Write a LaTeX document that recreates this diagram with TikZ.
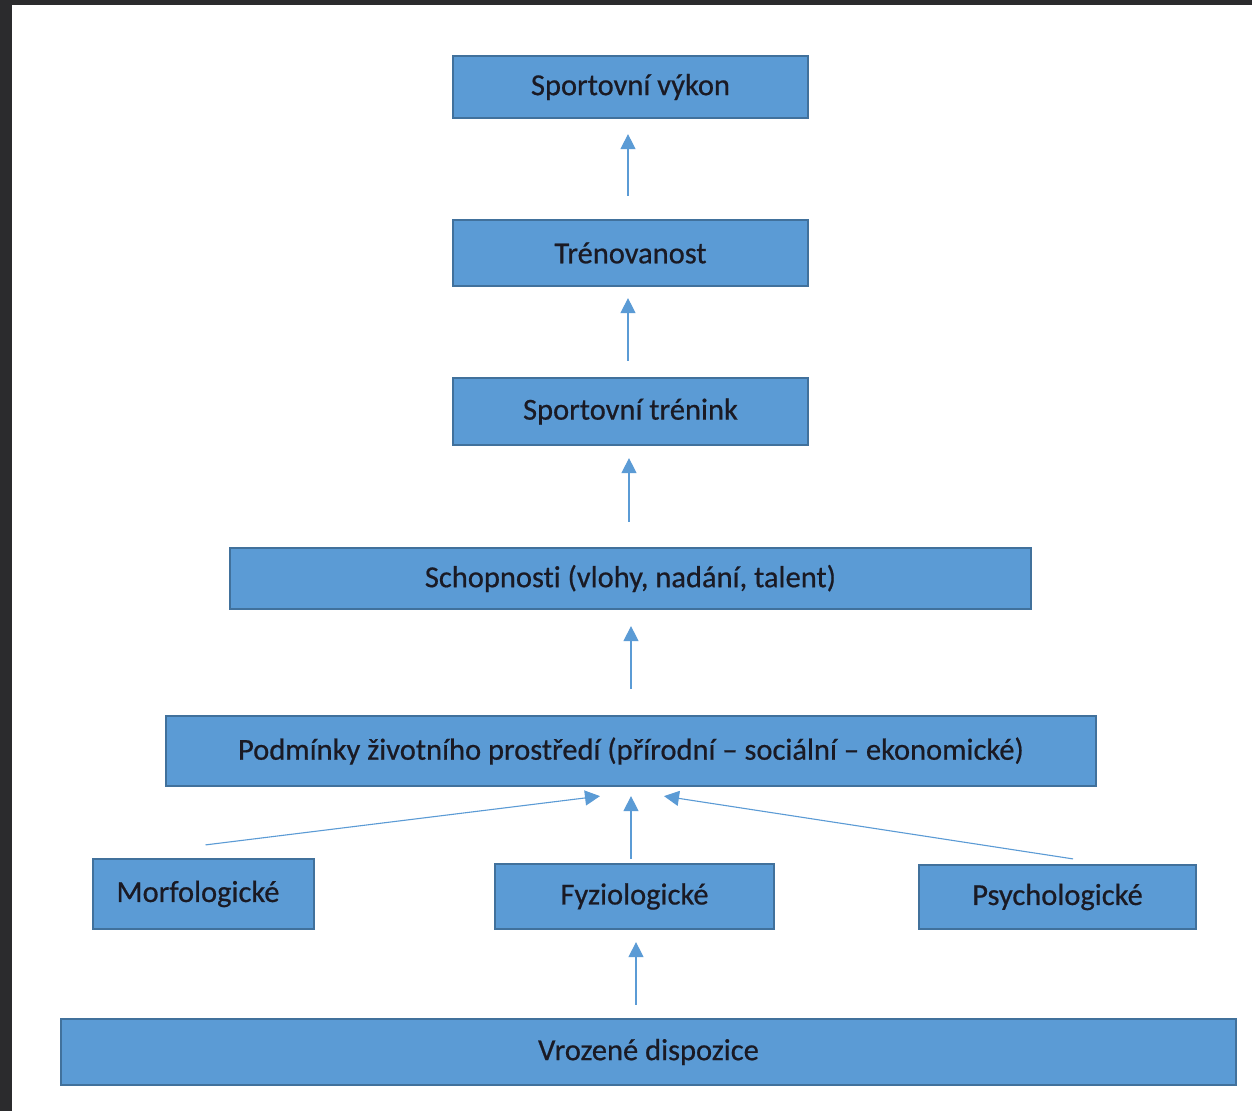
\documentclass[tikz,border=0pt]{standalone}
\usepackage{fontspec}
\setmainfont{Carlito}[Ligatures=NoCommon]
\newfontfamily\boxfont{Carlito}[Ligatures=NoCommon,FakeBold=0.6]
\usetikzlibrary{arrows.meta,calc}
\definecolor{boxfill}{HTML}{5B9BD5}
\definecolor{boxline}{HTML}{41719C}
\definecolor{txt}{HTML}{1A1A24}
\definecolor{frame}{HTML}{2B2B2D}
\tikzset{
  box/.style={draw=boxline, line width=2.2pt, fill=boxfill, text=txt, inner sep=0pt,
    font=\boxfont\fontsize{30.5}{36}\selectfont},
  arr/.style={draw=boxfill, line width=1.1pt, -{Triangle[width=15pt,length=15pt]}}
}
\begin{document}
\begin{tikzpicture}[x=1pt,y=-1pt]
\useasboundingbox (0,0) rectangle (1252,1111);
\fill[white] (0,0) rectangle (1252,1111);
\fill[frame] (0,0) rectangle (1252,5);
\fill[frame] (0,0) rectangle (12,1111);

\node[box, minimum width=355pt, minimum height=62pt] (vykon) at (630.5,87) {Sportovní výkon};
\node[box, minimum width=355pt, minimum height=66pt] (tren) at (630.5,253) {Trénovanost};
\node[box, minimum width=355pt, minimum height=67pt] (trenink) at (630.5,411.5) {Sportovní trénink};
\node[box, minimum width=801pt, minimum height=61pt] (schop) at (630.5,578.5) {Schopnosti (vlohy, nadání, talent)};
\node[box, minimum width=930pt, minimum height=70pt] (pod) at (631,751) {Podmínky životního prostředí (přírodní – sociální – ekonomické)};
\node[box, minimum width=221pt, minimum height=70pt] (morf) at (203.5,894) {Morfologické\kern11pt};
\node[box, minimum width=279pt, minimum height=65pt] (fyz) at (634.5,896.5) {Fyziologické};
\node[box, minimum width=277pt, minimum height=64pt] (psych) at (1057.5,897) {Psychologické};
\node[box, minimum width=1175pt, minimum height=66pt] (vroz) at (648.5,1052) {Vrozené dispozice};

\draw[arr] ($(tren.north)+(-2.5,-23)$) -- ($(vykon.south)+(-2.5,15)$);
\draw[arr] ($(trenink.north)+(-2.5,-16)$) -- ($(tren.south)+(-2.5,11)$);
\draw[arr] ($(schop.north)+(-1.5,-25)$) -- ($(trenink.south)+(-1.5,12)$);
\draw[arr] ($(pod.north)+(0,-26)$) -- ($(schop.south)+(0.5,16)$);
\draw[arr] ($(morf.north)+(2,-13)$) -- ($(pod.south)+(-31,9)$);
\draw[arr] ($(fyz.north)+(-3.5,-4)$) -- ($(pod.south)+(0,9)$);
\draw[arr] ($(psych.north)+(15.5,-5)$) -- ($(pod.south)+(33,9)$);
\draw[arr] ($(vroz.north)+(-12.5,-13)$) -- ($(fyz.south)+(1.5,12)$);
\end{tikzpicture}
\end{document}
